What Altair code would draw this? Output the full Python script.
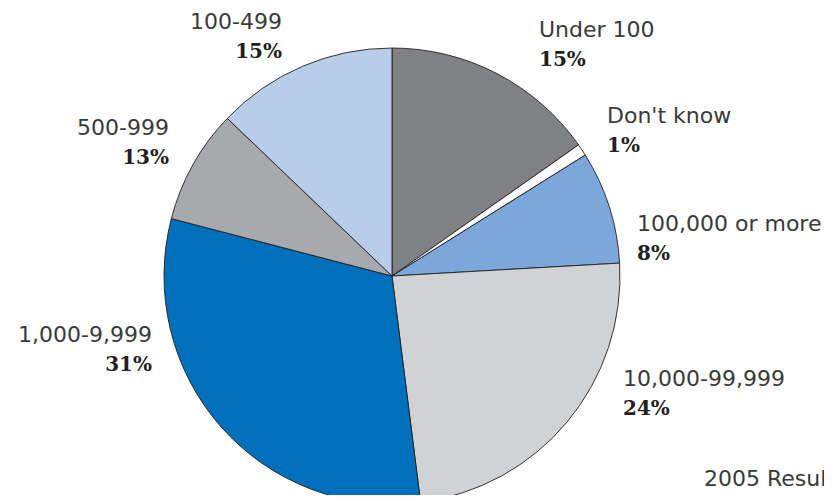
import altair as alt
import pandas as pd

# ---- data (clockwise from 12 o'clock) ----
categories = ["Under 100", "Don't know", "100,000 or more", "10,000-99,999",
              "1,000-9,999", "500-999", "100-499"]
slice_values = [15.25, 0.85, 8.0, 23.9, 31.05, 8.1, 12.85]   # slice sizes
label_percents = ["15%", "1%", "8%", "24%", "31%", "13%", "15%"]  # printed labels
footnote = ["2005 Results"]

# ---- styles / layout ----
colors = ["#808184", "#ffffff", "#7ba7da", "#d1d2d4", "#0070bd", "#a7a9ac", "#b8cdea"]
CX, CY, R = 384, 268, 228
label_x = [531, 599, 629, 615, 144, 161, 274]
label_y = [29, 115, 223, 378, 334, 127, 21]
label_side = ["left", "left", "left", "left", "right", "right", "right"]
PCT_DY = 29
W, H = 816, 487

df = pd.DataFrame({
    "category": categories,
    "value": slice_values,
    "order": list(range(len(categories))),
    "pct": label_percents,
    "lx": label_x,
    "ly": label_y,
    "py": [y + PCT_DY for y in label_y],
    "side": label_side,
})

base = alt.Chart(df)

pie = base.mark_arc(outerRadius=R, stroke="#231f20", strokeWidth=0.9).encode(
    theta=alt.Theta("value:Q", stack=True),
    order=alt.Order("order:Q"),
    color=alt.Color("category:N", scale=alt.Scale(domain=categories, range=colors), legend=None),
    x=alt.value(CX),
    y=alt.value(CY),
)

layers = [pie]
for side in ["left", "right"]:
    sub = base.transform_filter(alt.datum.side == side)
    layers.append(
        sub.mark_text(align=side, baseline="alphabetic", font="DejaVu Sans",
                      fontSize=22, fontWeight="normal", color="#3a3a3a").encode(
            x=alt.X("lx:Q", scale=None), y=alt.Y("ly:Q", scale=None), text="category:N")
    )
    layers.append(
        sub.mark_text(align=side, baseline="alphabetic", font="DejaVu Serif",
                      fontSize=20, fontWeight="bold", color="#231f20").encode(
            x=alt.X("lx:Q", scale=None), y=alt.Y("py:Q", scale=None), text="pct:N")
    )

foot = alt.Chart(pd.DataFrame({"t": footnote})).mark_text(
    align="left", baseline="alphabetic", font="DejaVu Sans", fontSize=22,
    fontWeight="normal", color="#3a3a3a").encode(
    x=alt.value(696), y=alt.value(478), text="t:N")
layers.append(foot)

chart = alt.layer(*layers).properties(
    width=W, height=H, autosize=alt.AutoSizeParams(type="none"), padding=0
).configure_view(stroke=None)

chart.save("out.html", embed_options={"renderer": "svg", "actions": False})
